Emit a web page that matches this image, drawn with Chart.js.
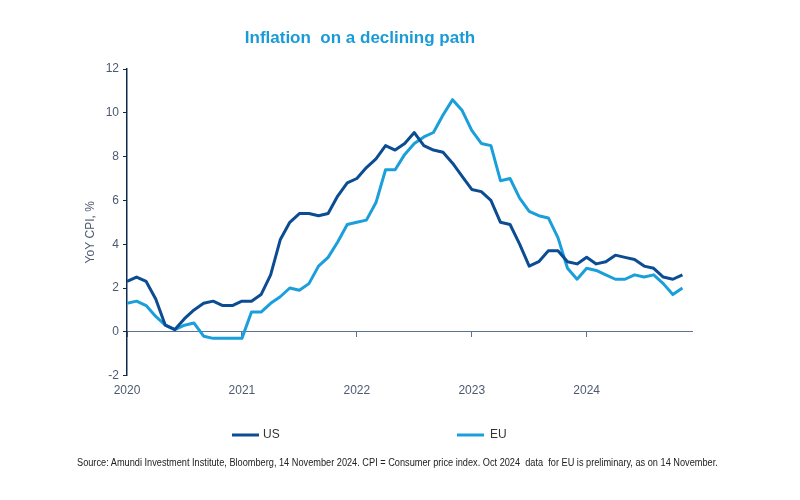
<!DOCTYPE html>
<html>
<head>
<meta charset="utf-8">
<title>Inflation on a declining path</title>
<script src="https://cdn.jsdelivr.net/npm/chart.js@4.4.1/dist/chart.umd.min.js"></script>
<style>
  body { margin: 0; background: #fff; }
  #wrap { position: relative; width: 800px; height: 500px; }
  #source {
    position: absolute; left: 77px; top: 457px;
    font: 10px Arial, "Liberation Sans", sans-serif; color: #222;
    white-space: nowrap;
    transform: scaleX(0.92); transform-origin: left top;
  }
</style>
</head>
<body>
<div id="wrap">
  <canvas id="myChart"></canvas>
  <div id="source">Source: Amundi Investment Institute, Bloomberg, 14 November 2024. CPI = Consumer price index. Oct 2024 &nbsp;data &nbsp;for EU is preliminary, as on 14 November.</div>
</div>
<script>
// monthly YoY CPI, Dec 2019 .. Oct 2024
const months = [
  'Dec 2019',
  'Jan 2020', 'Feb 2020', 'Mar 2020', 'Apr 2020', 'May 2020', 'Jun 2020', 'Jul 2020', 'Aug 2020', 'Sep 2020', 'Oct 2020', 'Nov 2020', 'Dec 2020',
  'Jan 2021', 'Feb 2021', 'Mar 2021', 'Apr 2021', 'May 2021', 'Jun 2021', 'Jul 2021', 'Aug 2021', 'Sep 2021', 'Oct 2021', 'Nov 2021', 'Dec 2021',
  'Jan 2022', 'Feb 2022', 'Mar 2022', 'Apr 2022', 'May 2022', 'Jun 2022', 'Jul 2022', 'Aug 2022', 'Sep 2022', 'Oct 2022', 'Nov 2022', 'Dec 2022',
  'Jan 2023', 'Feb 2023', 'Mar 2023', 'Apr 2023', 'May 2023', 'Jun 2023', 'Jul 2023', 'Aug 2023', 'Sep 2023', 'Oct 2023', 'Nov 2023', 'Dec 2023',
  'Jan 2024', 'Feb 2024', 'Mar 2024', 'Apr 2024', 'May 2024', 'Jun 2024', 'Jul 2024', 'Aug 2024', 'Sep 2024', 'Oct 2024'
];

const usCpi = [
  2.3,
  2.5, 2.3, 1.5, 0.3, 0.1, 0.6, 1.0, 1.3, 1.4, 1.2, 1.2, 1.4,
  1.4, 1.7, 2.6, 4.2, 5.0, 5.4, 5.4, 5.3, 5.4, 6.2, 6.8, 7.0,
  7.5, 7.9, 8.5, 8.3, 8.6, 9.1, 8.5, 8.3, 8.2, 7.7, 7.1, 6.5,
  6.4, 6.0, 5.0, 4.9, 4.0, 3.0, 3.2, 3.7, 3.7, 3.2, 3.1, 3.4,
  3.1, 3.2, 3.5, 3.4, 3.3, 3.0, 2.9, 2.5, 2.4, 2.6
];

const euCpi = [
  1.3,
  1.4, 1.2, 0.7, 0.3, 0.1, 0.3, 0.4, -0.2, -0.3, -0.3, -0.3, -0.3,
  0.9, 0.9, 1.3, 1.6, 2.0, 1.9, 2.2, 3.0, 3.4, 4.1, 4.9, 5.0,
  5.1, 5.9, 7.4, 7.4, 8.1, 8.6, 8.9, 9.1, 9.9, 10.6, 10.1, 9.2,
  8.6, 8.5, 6.9, 7.0, 6.1, 5.5, 5.3, 5.2, 4.3, 2.9, 2.4, 2.9,
  2.8, 2.6, 2.4, 2.4, 2.6, 2.5, 2.6, 2.2, 1.7, 2.0
];

const yearLabels = ['2020', '2021', '2022', '2023', '2024'];
const yearTickIndex = [0, 12, 24, 36, 48];   // month index of each year label

const toPoints = arr => arr.map((v, i) => ({ x: i, y: v }));
const yearTicks = scale => { scale.ticks = yearTickIndex.map(v => ({ value: v })); };

const axisText = '#4d5a6e';

// legend drawn by hand so the two items can sit far apart like the original
const spreadLegend = {
  id: 'spreadLegend',
  afterDraw(chart) {
    const ctx = chart.ctx;
    const spots = [{ x: 232, textX: 263 }, { x: 457, textX: 490 }];
    const y = 435;
    ctx.save();
    chart.data.datasets.forEach((ds, i) => {
      const s = spots[i];
      ctx.strokeStyle = ds.borderColor;
      ctx.lineWidth = 3;
      ctx.beginPath();
      ctx.moveTo(s.x, y);
      ctx.lineTo(s.x + 27, y);
      ctx.stroke();
      ctx.fillStyle = '#333';
      ctx.font = '12px Arial, "Liberation Sans", sans-serif';
      ctx.textBaseline = 'middle';
      ctx.fillText(ds.label, s.textX, y);
    });
    ctx.restore();
  }
};

const ctx = document.getElementById('myChart').getContext('2d');

const myChart = new Chart(ctx, {
  type: 'line',
  data: {
    labels: months,
    datasets: [
      {
        label: 'US',
        data: toPoints(usCpi),
        borderColor: '#0b4c92',
        backgroundColor: '#0b4c92',
        borderWidth: 3,
        pointRadius: 0,
        borderJoinStyle: 'round',
        tension: 0
      },
      {
        label: 'EU',
        data: toPoints(euCpi),
        borderColor: '#1a9fdb',
        backgroundColor: '#1a9fdb',
        borderWidth: 3,
        pointRadius: 0,
        borderJoinStyle: 'round',
        tension: 0
      }
    ]
  },
  options: {
    responsive: true,
    maintainAspectRatio: false,
    animation: false,
    layout: { padding: { top: 20, left: 28, right: 108, bottom: 94 } },
    plugins: {
      legend: { display: false },
      tooltip: { enabled: false },
      title: {
        display: true,
        text: 'Inflation  on a declining path',
        color: '#1a9bd7',
        font: { family: 'Arial, "Liberation Sans", sans-serif', size: 17, weight: 'bold' },
        padding: { top: 8, bottom: 20.6 }
      }
    },
    scales: {
      x: {
        type: 'linear',
        min: 0,
        max: 59,
        afterBuildTicks: yearTicks,
        border: { display: false },
        grid: { display: false, drawTicks: false },
        ticks: {
          padding: 8,
          color: axisText,
          font: { family: 'Arial, "Liberation Sans", sans-serif', size: 12 },
          maxRotation: 0,
          callback: v => yearLabels[yearTickIndex.indexOf(v)]
        }
      },
      // axis line sitting on zero, with the year tick marks
      xZero: {
        type: 'linear',
        position: { y: 0 },
        min: 0,
        max: 59,
        afterBuildTicks: yearTicks,
        border: { display: true, color: '#5b7290', width: 1 },
        grid: { drawOnChartArea: false, drawTicks: true, tickLength: 5, color: '#5b7290' },
        ticks: { display: false }
      },
      y: {
        min: -2,
        max: 12,
        afterFit: scale => { scale.width = 99; },
        border: { display: true, color: '#0e2a4e', width: 1.5 },
        grid: { drawOnChartArea: false, drawTicks: true, tickLength: 4, color: '#0e2a4e' },
        ticks: {
          stepSize: 2,
          padding: 4,
          color: axisText,
          font: { family: 'Arial, "Liberation Sans", sans-serif', size: 12 }
        },
        title: {
          display: true,
          // trailing spaces nudge the rotated title down, as in the original
          text: 'YoY CPI, %\u00a0\u00a0\u00a0\u00a0\u00a0\u00a0',
          color: axisText,
          font: { family: 'Arial, "Liberation Sans", sans-serif', size: 12 },
          padding: { top: 55, bottom: 0 }
        }
      }
    }
  },
  plugins: [spreadLegend]
});
</script>
</body>
</html>
